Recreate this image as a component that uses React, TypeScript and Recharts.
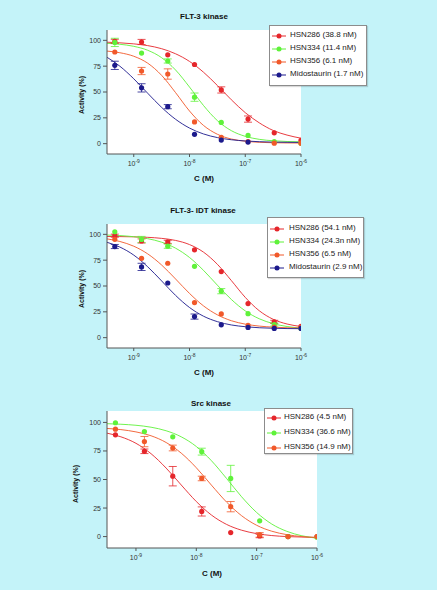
import React from "react";
import {
  ComposedChart,
  Line,
  Scatter,
  ErrorBar,
  XAxis,
  YAxis,
  CartesianGrid,
} from "recharts";

const FONT = '"Liberation Sans", Arial, Helvetica, sans-serif';
const BG = "#c4f3f9";

// log10 of concentration (M), 3-fold dilutions from 1 µM
const DOSE_X = [-9.34, -8.86, -8.39, -7.91, -7.43, -6.95, -6.48, -6.0];
const CURVE_X = [
  -9.48, -9.25, -9.0, -8.75, -8.5, -8.25, -8.0, -7.75, -7.5, -7.25, -7.0,
  -6.75, -6.5, -6.25, -6.0,
];
const X_TICKS = [-9, -8, -7, -6];
const Y_TICKS = [0, 25, 50, 75, 100];

const RED = "#e5262b";
const GREEN = "#5ff23a";
const ORANGE = "#f1592a";
const NAVY = "#1c1a8c";

// ---- FLT-3 kinase ----
const flt3Names = [
  "HSN286 (38.8 nM)",
  "HSN334 (11.4 nM)",
  "HSN356 (6.1 nM)",
  "Midostaurin (1.7 nM)",
];
const flt3_286 = [99, 98.4, 86, 76.6, 52, 23.8, 10.5, 3.2];
const flt3_286err = [2, 2.5, 0, 0, 3, 3, 0, 0];
const flt3_334 = [98, 87.7, 80, 45, 20.6, 8, 2, 0.3];
const flt3_334err = [4, 0, 2, 4, 0, 0, 0, 0];
const flt3_356 = [88.7, 70.3, 67.4, 21, 6, 2, 0.5, 0.5];
const flt3_356err = [0, 3.5, 5, 0, 0, 0, 0, 0];
const flt3_mido = [75.8, 54, 35.8, 9, 3.5, 1.5];
const flt3_midoErr = [4, 4, 2, 0, 0, 0];
const flt3Fit286 = [98.2, 97.6, 96.6, 94.9, 91.9, 87.0, 79.6, 69.2, 56.3, 42.5, 30.0, 20.2, 12.8, 8.3, 5.3];
const flt3Fit334 = [97.1, 96.2, 94.2, 90.4, 83.2, 71.3, 54.8, 37.0, 22.3, 12.6, 7.1, 4.2, 2.8, 2.1, 1.8];
const flt3Fit356 = [89.6, 88.0, 84.6, 77.9, 66.1, 49.4, 31.6, 17.7, 9.1, 4.5, 2.4, 1.3, 0.9, 0.7, 0.6];
const flt3FitMido = [83.6, 75.0, 62.8, 48.8, 35.1, 23.6, 15.1, 9.4, 5.9, 3.8, 2.6, 1.9, 1.5, 1.3, 1.2];

// ---- FLT-3- IDT kinase ----
const idtNames = [
  "HSN286 (54.1 nM)",
  "HSN334 (24.3n nM)",
  "HSN356 (6.5 nM)",
  "Midostaurin (2.9 nM)",
];
const idt_286 = [98.7, 93.6, 92.7, 85, 64, 33, 15.3, 11];
const idt_286err = [1.5, 2, 1.5, 0, 0, 0, 1.5, 0];
const idt_334 = [102.5, 95, 88.5, 69, 45, 23.2, 12.7, 8.9];
const idt_334err = [0, 3, 2, 0, 2.5, 0, 1.5, 0];
const idt_356 = [95.2, 76.8, 72, 34, 23, 11.8, 10.2, 10];
const idt_356err = [0, 0, 0, 0, 0, 0, 0, 0];
const idt_mido = [88.2, 68.5, 52.9, 20.4, 12.4, 9.9, 8.9, 8.9];
const idt_midoErr = [2, 3.5, 0, 2.5, 0, 0, 0, 0];
const idtFit286 = [97.9, 97.8, 97.6, 97.1, 96.1, 94.1, 90.1, 82.8, 71.0, 55.3, 39.0, 26.1, 17.8, 13.2, 10.8];
const idtFit334 = [99.3, 98.8, 97.7, 95.8, 92.4, 86.6, 77.6, 65.2, 50.8, 37.0, 25.9, 18.3, 13.6, 10.8, 9.3];
const idtFit356 = [95.6, 93.1, 88.5, 81.1, 70.3, 56.8, 42.8, 30.8, 22.1, 16.4, 13.1, 11.2, 10.2, 9.6, 9.3];
const idtFitMido = [92.3, 87.7, 79.9, 68.6, 54.9, 40.9, 29.2, 20.8, 15.5, 12.3, 10.6, 9.6, 9.1, 8.8, 8.7];

// ---- Src kinase ----
const srcNames = ["HSN286 (4.5 nM)", "HSN334 (36.6 nM)", "HSN356 (14.9 nM)"];
const src_286 = [89.1, 74.7, 52.9, 22, 3.5, 0.5, 0, 0];
const src_286err = [0, 2, 8.5, 4, 0, 1.5, 0, 0];
const src_334 = [99.7, 92, 87.4, 74.4, 50.9, 13.8, 0, -0.5];
const src_334err = [0, 0, 0, 3, 11.5, 0, 0, 0];
const src_356 = [94.1, 83.2, 77.6, 50.9, 26.2, 1.5, 0, 0];
const src_356err = [0, 4.5, 2.5, 2, 4.5, 2, 0, 0];
const srcFit286 = [90.6, 87.4, 81.7, 72.6, 60.0, 45.2, 30.7, 18.9, 10.7, 5.6, 2.6, 0.9, 0.0, -0.4, -0.7];
const srcFit334 = [98.9, 98.4, 97.5, 95.8, 92.7, 87.4, 78.9, 66.5, 51.0, 34.9, 21.1, 11.0, 4.6, 0.7, -1.4];
const srcFit356 = [94.7, 93.7, 91.7, 88.3, 82.4, 73.1, 60.3, 45.1, 30.3, 18.3, 9.9, 4.7, 1.7, 0.0, -0.9];

const toPoints = (vals: number[], errs: number[]) =>
  vals.map((y, i) => ({ x: DOSE_X[i], y, err: errs[i] ? errs[i] : null }));

const toCurves = (fits: number[][]) =>
  CURVE_X.map((x, i) => {
    const row: any = { x };
    fits.forEach((f, k) => (row["s" + k] = f[i]));
    return row;
  });

const XTick = (props: any) => {
  const { x, y, payload } = props;
  return (
    <text x={x} y={y + 7} textAnchor="middle" fontSize={7} fill="#333" fontFamily={FONT}>
      10
      <tspan fontSize={5} dy={-3}>
        {Math.round(payload.value)}
      </tspan>
    </text>
  );
};

const Label = ({ x, y, text, size = 8, rotate = false }: any) => (
  <div
    style={{
      position: "absolute",
      left: x,
      top: y,
      transform: `translate(-50%, -50%)${rotate ? " rotate(-90deg)" : ""}`,
      font: `bold ${size}px ${FONT}`,
      color: "#111",
      whiteSpace: "nowrap",
    }}
  >
    {text}
  </div>
);

const LegendBox = ({ left, top, width, height, names, colors, firstRow, gap, markX, textX }: any) => (
  <div
    style={{
      position: "absolute",
      left,
      top,
      width,
      height,
      boxSizing: "border-box",
      background: "#fff",
      border: "1px solid #8c8c8c",
      boxShadow: "1px 1px 1px rgba(0,0,0,0.15)",
    }}
  >
    {names.map((n: string, i: number) => (
      <div key={n} style={{ position: "absolute", left: 0, top: firstRow + i * gap - 6, height: 12, width: "100%" }}>
        <svg width={14} height={6} style={{ position: "absolute", left: markX - 7, top: 3 }}>
          <line x1={0} y1={3} x2={14} y2={3} stroke={colors[i]} strokeWidth={1} />
          <circle cx={7} cy={3} r={2.5} fill={colors[i]} />
        </svg>
        <span
          style={{
            position: "absolute",
            left: textX,
            top: 0,
            lineHeight: "12px",
            font: `8px ${FONT}`,
            color: "#222",
            whiteSpace: "nowrap",
          }}
        >
          {n}
        </span>
      </div>
    ))}
  </div>
);

const dot = (color: string) => (p: any) =>
  <circle cx={p.cx} cy={p.cy} r={2.6} fill={color} />;

const Panel = ({ top, height, margin, fits, points, colors }: any) => (
  <div style={{ position: "absolute", left: 0, top, width: 437, height }}>
    <ComposedChart width={437} height={height} data={toCurves(fits)} margin={margin}>
      <CartesianGrid fill="#fff" horizontal={false} vertical={false} stroke="none" />
      <XAxis
        dataKey="x"
        type="number"
        domain={[-9.48, -6]}
        ticks={X_TICKS}
        allowDataOverflow
        height={24}
        axisLine={{ stroke: "#555" }}
        tickLine={{ stroke: "#555" }}
        tickSize={3}
        tick={<XTick />}
      />
      <YAxis
        type="number"
        domain={[-10, 110]}
        ticks={Y_TICKS}
        allowDataOverflow
        width={40}
        axisLine={{ stroke: "#555" }}
        tickLine={{ stroke: "#555" }}
        tickSize={4}
        tickMargin={2}
        tick={{ fontSize: 7, fill: "#333", fontFamily: FONT }}
      />
      {fits.map((_: any, k: number) => (
        <Line
          key={"l" + k}
          type="monotone"
          dataKey={"s" + k}
          stroke={colors[k]}
          strokeWidth={0.9}
          dot={false}
          activeDot={false}
          isAnimationActive={false}
        />
      ))}
      {points.map((p: any, k: number) => (
        <Scatter
          key={"p" + k}
          data={p}
          dataKey="y"
          shape={dot(colors[k])}
          isAnimationActive={false}
        >
          <ErrorBar dataKey="err" direction="y" width={4} stroke={colors[k]} strokeWidth={0.8} />
        </Scatter>
      ))}
    </ComposedChart>
  </div>
);

export default function App() {
  const c4 = [RED, GREEN, ORANGE, NAVY];
  const c3 = [RED, GREEN, ORANGE];
  return (
    <div
      style={{
        position: "absolute",
        left: 0,
        top: 0,
        width: 437,
        height: 590,
        background: BG,
        overflow: "hidden",
      }}
    >
      <Panel
        top={0}
        height={190}
        margin={{ top: 30, right: 136, bottom: 12, left: 67 }}
        fits={[flt3Fit286, flt3Fit334, flt3Fit356, flt3FitMido]}
        points={[
          toPoints(flt3_286, flt3_286err),
          toPoints(flt3_334, flt3_334err),
          toPoints(flt3_356, flt3_356err),
          toPoints(flt3_mido, flt3_midoErr),
        ]}
        colors={c4}
      />
      <Panel
        top={190}
        height={190}
        margin={{ top: 34, right: 136, bottom: 8, left: 67 }}
        fits={[idtFit286, idtFit334, idtFit356, idtFitMido]}
        points={[
          toPoints(idt_286, idt_286err),
          toPoints(idt_334, idt_334err),
          toPoints(idt_356, idt_356err),
          toPoints(idt_mido, idt_midoErr),
        ]}
        colors={c4}
      />
      <Panel
        top={380}
        height={210}
        margin={{ top: 31, right: 120, bottom: 18, left: 67 }}
        fits={[srcFit286, srcFit334, srcFit356]}
        points={[
          toPoints(src_286, src_286err),
          toPoints(src_334, src_334err),
          toPoints(src_356, src_356err),
        ]}
        colors={c3}
      />

      <Label x={204} y={16} text="FLT-3 kinase" />
      <Label x={203} y={210} text="FLT-3- IDT kinase" />
      <Label x={211} y={403} text="Src kinase" />

      <Label x={204} y={178} text="C (M)" />
      <Label x={204} y={372} text="C (M)" />
      <Label x={212} y={573} text="C (M)" />

      <Label x={81} y={95} text="Activity (%)" size={7} rotate />
      <Label x={81} y={289} text="Activity (%)" size={7} rotate />
      <Label x={75} y={484} text="Activity (%)" size={7} rotate />

      <LegendBox left={269} top={25} width={98} height={61} names={flt3Names} colors={c4} firstRow={10} gap={12.9} markX={9} textX={20} />
      <LegendBox left={267} top={217} width={97} height={61} names={idtNames} colors={c4} firstRow={11} gap={13.1} markX={9} textX={21} />
      <LegendBox left={264} top={408} width={89} height={46} names={srcNames} colors={c3} firstRow={8.5} gap={15.2} markX={8.5} textX={19} />
    </div>
  );
}
